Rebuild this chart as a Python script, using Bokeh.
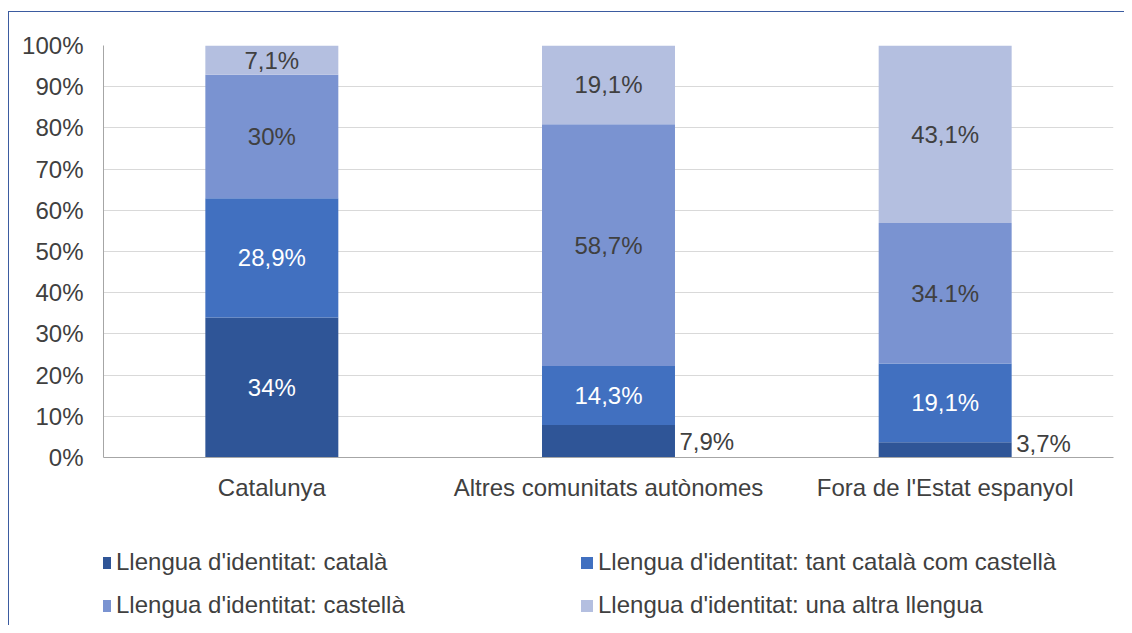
from bokeh.plotting import figure
from bokeh.layouts import column
from bokeh.models import ColumnDataSource, FixedTicker, Legend, LegendItem, Range1d
from bokeh.core.properties import value
from bokeh.embed import file_html
from bokeh.resources import INLINE

categories = ["Catalunya", "Altres comunitats autònomes", "Fora de l'Estat espanyol"]
series_names = [
    "Llengua d'identitat: català",
    "Llengua d'identitat: tant català com castellà",
    "Llengua d'identitat: castellà",
    "Llengua d'identitat: una altra llengua",
]
catala = [34.0, 7.9, 3.7]
tant = [28.9, 14.3, 19.1]
castella = [30.0, 58.7, 34.1]
altra = [7.1, 19.1, 43.1]
labels_catala = ["34%", "7,9%", "3,7%"]
labels_tant = ["28,9%", "14,3%", "19,1%"]
labels_castella = ["30%", "58,7%", "34.1%"]
labels_altra = ["7,1%", "19,1%", "43,1%"]
y_ticks = [0, 10, 20, 30, 40, 50, 60, 70, 80, 90, 100]
y_tick_labels = ["0%", "10%", "20%", "30%", "40%", "50%", "60%", "70%", "80%", "90%", "100%"]

colors = ["#2F5597", "#4170C0", "#7A93D1", "#B4BFE0"]
FONT = "Liberation Sans"
TXT = "#404040"
FS = "24px"

keys = ["catala", "tant", "castella", "altra"]
data = {"cat": categories, "catala": catala, "tant": tant, "castella": castella, "altra": altra}
src = ColumnDataSource(data)

p = figure(x_range=categories, y_range=Range1d(0, 100), width=1115, height=520,
           output_backend="svg", toolbar_location=None,
           min_border_left=94, min_border_right=11, min_border_top=33, min_border_bottom=75)
p.outline_line_color = None
p.background_fill_color = "white"
p.border_fill_color = "white"

renderers = p.vbar_stack(keys, x="cat", width=0.395, color=colors, source=src, line_color=None)

# axes
p.yaxis.ticker = FixedTicker(ticks=y_ticks)
p.yaxis.major_label_overrides = {t: l for t, l in zip(y_ticks, y_tick_labels)}
for ax in (p.xaxis, p.yaxis):
    ax.axis_line_color = "#A6A6A6"
    ax.axis_line_width = 1
    ax.major_tick_line_color = None
    ax.minor_tick_line_color = None
    ax.major_tick_out = 0
    ax.major_tick_in = 0
    ax.major_label_text_font = FONT
    ax.major_label_text_font_size = FS
    ax.major_label_text_color = TXT
p.yaxis.major_label_standoff = 20
p.xaxis.major_label_standoff = 16
p.xgrid.grid_line_color = None
p.ygrid.grid_line_color = "#D9D9D9"
p.ygrid.grid_line_width = 1

# segment labels
series_vals = [catala, tant, castella, altra]
series_labels = [labels_catala, labels_tant, labels_castella, labels_altra]
in_x, in_y, in_t, in_c = [], [], [], []
out_x, out_y, out_t = [], [], []
for ci, c in enumerate(categories):
    base = 0.0
    for si in range(4):
        v = series_vals[si][ci]
        mid = base + v / 2
        if si == 0 and v < 10:
            out_x.append(c)
            out_y.append(max(mid, 3.4))
            out_t.append(series_labels[si][ci])
        else:
            in_x.append(c)
            in_y.append(mid)
            in_t.append(series_labels[si][ci])
            in_c.append("white" if si <= 1 else TXT)
        base += v

p.text(x=in_x, y=in_y, text=in_t, text_color=in_c, text_align="center", text_baseline="middle",
       text_font=value(FONT), text_font_size=FS)
p.text(x=out_x, y=out_y, text=out_t, text_color=TXT, text_align="left", text_baseline="middle",
       x_offset=71, text_font=value(FONT), text_font_size=FS)

# legend panel (separate figure so that the legend is not clipped)
lp = figure(width=1115, height=93, x_range=Range1d(0, 1), y_range=Range1d(0, 1),
            output_backend="svg", toolbar_location=None,
            x_axis_location=None, y_axis_location=None,
            min_border=0, min_border_left=0, min_border_right=0, min_border_top=0, min_border_bottom=0)
lp.outline_line_color = None
lp.grid.visible = False
lp.border_fill_color = "white"
dummy = [lp.vbar(x=[-10], top=[-10], bottom=[-11], width=0.1, color=c, line_color=None) for c in colors]

# row-major order in a column-filled 2-column legend
order = [0, 2, 1, 3]
legend = Legend(
    items=[LegendItem(label=series_names[i], renderers=[dummy[i]]) for i in order],
    ncols=2, location=(-6, 6),
    label_text_font=FONT, label_text_font_size=FS, label_text_color=TXT,
    glyph_width=15, glyph_height=15, label_standoff=4, spacing=15,
    label_width=448, label_height=27, padding=0, margin=0,
    border_line_color=None, background_fill_alpha=0,
)
lp.add_layout(legend)

layout = column(p, lp, spacing=0, margin=(11, 0, 0, 8),
                styles={"border-left": "1px solid #3B5BA0", "border-top": "1px solid #3B5BA0"})

open("out.html", "w").write(file_html(layout, INLINE))
